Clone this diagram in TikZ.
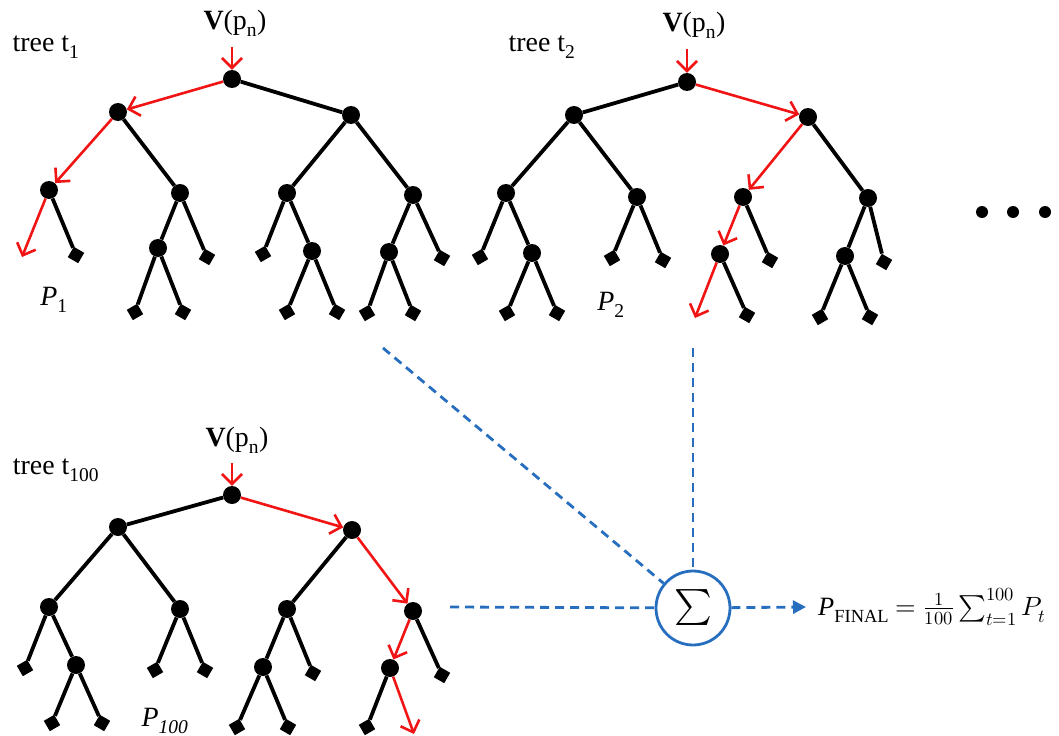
\documentclass[tikz,border=0pt]{standalone}
\usepackage{fontspec}
\usepackage{unicode-math}
\setmainfont{Liberation Serif}
\setmathfont{Latin Modern Math}
\usetikzlibrary{arrows.meta}
\definecolor{sigblue}{RGB}{40,110,190}
\definecolor{pathred}{RGB}{240,20,20}
\begin{document}
\begin{tikzpicture}[x=1bp,y=-1bp,
  inode/.style={circle,fill=black,inner sep=0pt,minimum size=18bp},
  leaf/.style={rectangle,fill=black,inner sep=0pt,minimum size=12bp,rotate=#1},
  leaf/.default=30,
  edge/.style={black,line width=3.8bp},
  redge/.style={pathred,line width=2.6bp,-{Straight Barb[length=10bp,width=20bp,line width=2.6bp]}},
  lab/.style={font=\fontsize{28}{32}\selectfont,inner sep=0pt},
  sigcirc/.style={circle,draw=sigblue,line width=2.8bp,minimum size=74bp,inner sep=0pt,font=\fontsize{36}{40}\selectfont},
  dline/.style={sigblue,line width=2.8bp,dash pattern=on 9bp off 6bp},
  dotn/.style={circle,fill=black,inner sep=0pt,minimum size=12bp}]
\useasboundingbox (0,0) rectangle (1059,736);

% ---------------- tree 1 ----------------
\node[lab] (t1lab) at (46,47) {tree t\textsubscript{1}};
\node[lab] (v1) at (235,23) {\textbf{V}(p\textsubscript{n})};
\node[lab] (p1) at (54,300) {\textit{P}\textsubscript{1}};
\coordinate (a1in) at (232,47);
\node[inode] (a1r) at (232,79) {};
\node[inode] (a1L) at (118,112) {};
\node[inode] (a1R) at (351,115) {};
\node[inode] (a1LL) at (49,190) {};
\node[inode] (a1LR) at (180,193) {};
\node[inode] (a1RL) at (287,193) {};
\node[inode] (a1RR) at (413,195) {};
\node[inode] (a1LRL) at (158,248) {};
\node[inode] (a1RLR) at (312,251) {};
\node[inode] (a1RRL) at (389,252) {};
\node[leaf=-30] (a1LLR) at (76,255) {};
\node[leaf=-30] (a1LRR) at (207,257) {};
\node[leaf] (a1LRLL) at (135,312) {};
\node[leaf=-30] (a1LRLR) at (183,312) {};
\node[leaf] (a1RLL) at (263,254) {};
\node[leaf] (a1RLRL) at (287,312) {};
\node[leaf=-30] (a1RLRR) at (337,312) {};
\node[leaf=-30] (a1RRR) at (442,258) {};
\node[leaf] (a1RRLL) at (367,313) {};
\node[leaf=-30] (a1RRLR) at (413,313) {};
\coordinate (a1end) at (22,257);
\draw[edge] (a1r) -- (a1R);
\draw[edge] (a1L) -- (a1LR);
\draw[edge] (a1R) -- (a1RL);
\draw[edge] (a1R) -- (a1RR);
\draw[edge] (a1LL) -- (a1LLR);
\draw[edge] (a1LR) -- (a1LRL);
\draw[edge] (a1LR) -- (a1LRR);
\draw[edge] (a1LRL) -- (a1LRLL);
\draw[edge] (a1LRL) -- (a1LRLR);
\draw[edge] (a1RL) -- (a1RLL);
\draw[edge] (a1RL) -- (a1RLR);
\draw[edge] (a1RLR) -- (a1RLRL);
\draw[edge] (a1RLR) -- (a1RLRR);
\draw[edge] (a1RR) -- (a1RRL);
\draw[edge] (a1RR) -- (a1RRR);
\draw[edge] (a1RRL) -- (a1RRLL);
\draw[edge] (a1RRL) -- (a1RRLR);
\draw[redge] (a1in) -- (a1r);
\draw[redge] (a1r) -- (a1L);
\draw[redge] (a1L) -- (a1LL);
\draw[redge] (a1LL) -- (a1end);

% ---------------- tree 2 ----------------
\node[lab] (t2lab) at (542,47) {tree t\textsubscript{2}};
\node[lab] (v2) at (694,25) {\textbf{V}(p\textsubscript{n})};
\node[lab] (p2) at (611,305) {\textit{P}\textsubscript{2}};
\coordinate (bin) at (687,49);
\node[inode] (br) at (687,82) {};
\node[inode] (bL) at (574,115) {};
\node[inode] (bR) at (808,117) {};
\node[inode] (bLL) at (506,193) {};
\node[inode] (bLR) at (637,197) {};
\node[inode] (bRL) at (743,197) {};
\node[inode] (bRR) at (868,198) {};
\node[inode] (bLLR) at (532,253) {};
\node[inode] (bRLL) at (720,254) {};
\node[inode] (bRRL) at (845,256) {};
\node[leaf] (bLLL) at (480,257) {};
\node[leaf] (bLLRL) at (507,313) {};
\node[leaf=-30] (bLLRR) at (557,313) {};
\node[leaf] (bLRL) at (612,258) {};
\node[leaf=-30] (bLRR) at (663,260) {};
\node[leaf=-30] (bRLR) at (770,260) {};
\node[leaf=-30] (bRLLR) at (747,315) {};
\node[leaf=-30] (bRRR) at (884,262) {};
\node[leaf] (bRRLL) at (820,317) {};
\node[leaf=-30] (bRRLR) at (870,317) {};
\coordinate (bend) at (695,318);
\draw[edge] (br) -- (bL);
\draw[edge] (bL) -- (bLL);
\draw[edge] (bL) -- (bLR);
\draw[edge] (bR) -- (bRR);
\draw[edge] (bLL) -- (bLLL);
\draw[edge] (bLL) -- (bLLR);
\draw[edge] (bLLR) -- (bLLRL);
\draw[edge] (bLLR) -- (bLLRR);
\draw[edge] (bLR) -- (bLRL);
\draw[edge] (bLR) -- (bLRR);
\draw[edge] (bRL) -- (bRLR);
\draw[edge] (bRLL) -- (bRLLR);
\draw[edge] (bRR) -- (bRRL);
\draw[edge] (bRR) -- (bRRR);
\draw[edge] (bRRL) -- (bRRLL);
\draw[edge] (bRRL) -- (bRRLR);
\draw[redge] (bin) -- (br);
\draw[redge] (br) -- (bR);
\draw[redge] (bR) -- (bRL);
\draw[redge] (bRL) -- (bRLL);
\draw[redge] (bRLL) -- (bend);

% ---------------- tree 100 ----------------
\node[lab] (t3lab) at (56,470) {tree t\textsubscript{100}};
\node[lab] (v3) at (237,440) {\textbf{V}(p\textsubscript{n})};
\node[lab] (p3) at (165,721) {\textit{P}\textsubscript{\textit{100}}};
\coordinate (cin) at (232,463);
\node[inode] (cr) at (232,495) {};
\node[inode] (cL) at (118,527) {};
\node[inode] (cR) at (352,530) {};
\node[inode] (cLL) at (49,607) {};
\node[inode] (cLR) at (180,609) {};
\node[inode] (cRL) at (287,609) {};
\node[inode] (cRR) at (413,611) {};
\node[inode] (cLLR) at (76,665) {};
\node[inode] (cRLL) at (263,667) {};
\node[inode] (cRRL) at (390,668) {};
\node[leaf] (cLLL) at (25,668) {};
\node[leaf] (cLLRL) at (52,723) {};
\node[leaf=-30] (cLLRR) at (102,723) {};
\node[leaf] (cLRL) at (155,670) {};
\node[leaf=-30] (cLRR) at (205,670) {};
\node[leaf=-30] (cRLR) at (313,673) {};
\node[leaf] (cRLLL) at (237,727) {};
\node[leaf=-30] (cRLLR) at (288,727) {};
\node[leaf=-30] (cRRR) at (442,675) {};
\node[leaf] (cRRLL) at (367,727) {};
\coordinate (cend) at (414,734);
\draw[edge] (cr) -- (cL);
\draw[edge] (cL) -- (cLL);
\draw[edge] (cL) -- (cLR);
\draw[edge] (cR) -- (cRL);
\draw[edge] (cLL) -- (cLLL);
\draw[edge] (cLL) -- (cLLR);
\draw[edge] (cLLR) -- (cLLRL);
\draw[edge] (cLLR) -- (cLLRR);
\draw[edge] (cLR) -- (cLRL);
\draw[edge] (cLR) -- (cLRR);
\draw[edge] (cRL) -- (cRLL);
\draw[edge] (cRL) -- (cRLR);
\draw[edge] (cRLL) -- (cRLLL);
\draw[edge] (cRLL) -- (cRLLR);
\draw[edge] (cRR) -- (cRRR);
\draw[edge] (cRRL) -- (cRRLL);
\draw[redge] (cin) -- (cr);
\draw[redge] (cr) -- (cR);
\draw[redge] (cR) -- (cRR);
\draw[redge] (cRR) -- (cRRL);
\draw[redge] (cRRL) -- (cend);

% ---------------- dots ----------------
\node[dotn] (d1) at (982,212) {};
\node[dotn] (d2) at (1013,212) {};
\node[dotn] (d3) at (1045,212) {};

% ---------------- aggregation ----------------
\node[sigcirc] (sig) at (693,608) {$\sum$};
\node[anchor=west,inner sep=0pt,font=\fontsize{26.5}{30}\selectfont] (form) at (818,607)
  {\textit{P}\textsubscript{FINAL} $=\frac{1}{100}\sum_{t=1}^{100}P_t$};
\coordinate (s1) at (383,348);
\coordinate (s2) at (693,348);
\coordinate (s3) at (450,607);
\coordinate (s4) at (806,607);
\draw[dline] (s1) -- (sig);
\draw[dline] (s2) -- (sig);
\draw[dline] (s3) -- (sig);
\draw[dline,-{Triangle[length=13bp,width=13bp]}] (sig) -- (s4);
\end{tikzpicture}
\end{document}
